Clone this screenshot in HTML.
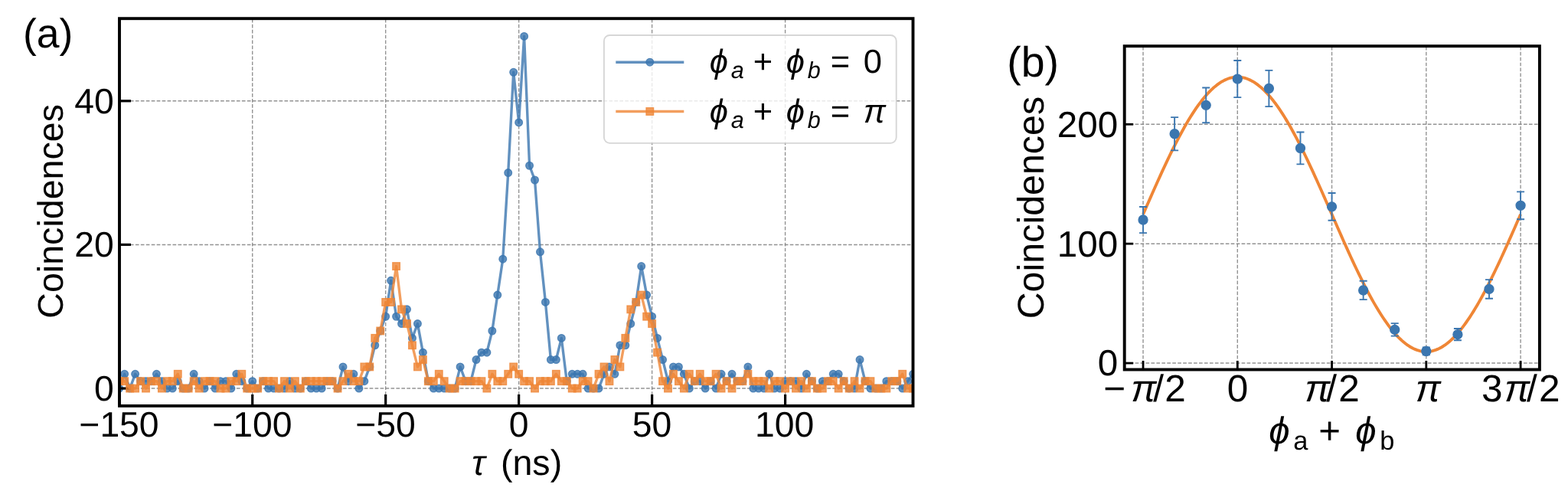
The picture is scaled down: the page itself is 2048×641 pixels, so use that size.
<!DOCTYPE html>
<html><head><meta charset="utf-8"><title>Coincidence plots</title>
<style>html,body{margin:0;padding:0;background:#fff;}svg{display:block;will-change:transform;}svg text{font-family:"Liberation Sans",sans-serif;fill:#000;white-space:pre;text-rendering:geometricPrecision;}</style></head>
<body>
<svg width="2048" height="641" viewBox="0 0 2048 641">
<rect x="0" y="0" width="2048" height="641" fill="#ffffff"/>
<defs>
<clipPath id="ca"><rect x="156.00" y="24.20" width="1036.50" height="505.70"/></clipPath>
<clipPath id="cb"><rect x="1468.70" y="60.20" width="542.20" height="422.30"/></clipPath>
</defs>
<g clip-path="url(#ca)">
<line x1="155.73" y1="529.90" x2="155.73" y2="24.20" stroke="#808080" stroke-opacity="0.85" stroke-width="1.4" stroke-dasharray="4.7 2.25" fill="none"/>
<line x1="329.70" y1="529.90" x2="329.70" y2="24.20" stroke="#808080" stroke-opacity="0.85" stroke-width="1.4" stroke-dasharray="4.7 2.25" fill="none"/>
<line x1="503.67" y1="529.90" x2="503.67" y2="24.20" stroke="#808080" stroke-opacity="0.85" stroke-width="1.4" stroke-dasharray="4.7 2.25" fill="none"/>
<line x1="677.65" y1="529.90" x2="677.65" y2="24.20" stroke="#808080" stroke-opacity="0.85" stroke-width="1.4" stroke-dasharray="4.7 2.25" fill="none"/>
<line x1="851.62" y1="529.90" x2="851.62" y2="24.20" stroke="#808080" stroke-opacity="0.85" stroke-width="1.4" stroke-dasharray="4.7 2.25" fill="none"/>
<line x1="1025.60" y1="529.90" x2="1025.60" y2="24.20" stroke="#808080" stroke-opacity="0.85" stroke-width="1.4" stroke-dasharray="4.7 2.25" fill="none"/>
<line x1="156.00" y1="507.05" x2="1192.50" y2="507.05" stroke="#808080" stroke-opacity="0.85" stroke-width="1.4" stroke-dasharray="4.7 2.25" fill="none"/>
<line x1="156.00" y1="319.43" x2="1192.50" y2="319.43" stroke="#808080" stroke-opacity="0.85" stroke-width="1.4" stroke-dasharray="4.7 2.25" fill="none"/>
<line x1="156.00" y1="131.81" x2="1192.50" y2="131.81" stroke="#808080" stroke-opacity="0.85" stroke-width="1.4" stroke-dasharray="4.7 2.25" fill="none"/>
</g>
<g clip-path="url(#ca)">
<polyline points="155.73,507.05 162.68,488.29 169.64,507.05 176.60,488.29 183.56,497.67 190.52,497.67 197.48,497.67 204.44,488.29 211.40,497.67 218.36,507.05 225.31,507.05 232.27,497.67 239.23,507.05 246.19,507.05 253.15,488.29 260.11,497.67 267.07,507.05 274.03,497.67 280.99,507.05 287.95,497.67 294.90,497.67 301.86,507.05 308.82,488.29 315.78,497.67 322.74,507.05 329.70,497.67 336.66,507.05 343.62,497.67 350.58,507.05 357.54,507.05 364.50,507.05 371.45,507.05 378.41,497.67 385.37,507.05 392.33,507.05 399.29,497.67 406.25,507.05 413.21,507.05 420.17,507.05 427.13,497.67 434.08,497.67 441.04,507.05 448.00,478.91 454.96,497.67 461.92,488.29 468.88,507.05 475.84,497.67 482.80,478.91 489.76,450.76 496.72,432.00 503.67,413.24 510.63,366.34 517.59,413.24 524.55,422.62 531.51,403.86 538.47,441.38 545.43,422.62 552.39,460.14 559.35,497.67 566.31,507.05 573.26,507.05 580.22,507.05 587.18,507.05 594.14,507.05 601.10,478.91 608.06,497.67 615.02,497.67 621.98,469.53 628.94,460.14 635.90,460.14 642.86,432.00 649.81,385.10 656.77,338.19 663.73,225.62 670.69,94.29 677.65,159.95 684.61,47.38 691.57,216.24 698.53,235.00 705.49,328.81 712.44,394.48 719.40,469.53 726.36,469.53 733.32,441.38 740.28,497.67 747.24,488.29 754.20,488.29 761.16,488.29 768.12,507.05 775.08,507.05 782.03,507.05 788.99,488.29 795.95,478.91 802.91,488.29 809.87,450.76 816.83,450.76 823.79,422.62 830.75,394.48 837.71,347.57 844.67,385.10 851.62,413.24 858.58,441.38 865.54,469.53 872.50,497.67 879.46,478.91 886.42,478.91 893.38,488.29 900.34,507.05 907.30,497.67 914.26,497.67 921.21,507.05 928.17,497.67 935.13,507.05 942.09,488.29 949.05,497.67 956.01,488.29 962.97,497.67 969.93,497.67 976.89,478.91 983.85,507.05 990.80,507.05 997.76,507.05 1004.72,488.29 1011.68,507.05 1018.64,507.05 1025.60,497.67 1032.56,497.67 1039.52,497.67 1046.48,507.05 1053.44,488.29 1060.39,497.67 1067.35,507.05 1074.31,497.67 1081.27,497.67 1088.23,488.29 1095.19,488.29 1102.15,497.67 1109.11,507.05 1116.07,507.05 1123.03,469.53 1129.98,497.67 1136.94,507.05 1143.90,507.05 1150.86,507.05 1157.82,497.67 1164.78,497.67 1171.74,497.67 1178.70,507.05 1185.66,497.67 1192.62,488.29" fill="none" stroke="#3B76AF" stroke-opacity="0.8" stroke-width="3.4" stroke-linejoin="round"/>
<circle cx="155.73" cy="507.05" r="4.85" fill="#3B76AF" fill-opacity="0.8" stroke="#3B76AF" stroke-opacity="0.8" stroke-width="1.3"/>
<circle cx="162.68" cy="488.29" r="4.85" fill="#3B76AF" fill-opacity="0.8" stroke="#3B76AF" stroke-opacity="0.8" stroke-width="1.3"/>
<circle cx="169.64" cy="507.05" r="4.85" fill="#3B76AF" fill-opacity="0.8" stroke="#3B76AF" stroke-opacity="0.8" stroke-width="1.3"/>
<circle cx="176.60" cy="488.29" r="4.85" fill="#3B76AF" fill-opacity="0.8" stroke="#3B76AF" stroke-opacity="0.8" stroke-width="1.3"/>
<circle cx="183.56" cy="497.67" r="4.85" fill="#3B76AF" fill-opacity="0.8" stroke="#3B76AF" stroke-opacity="0.8" stroke-width="1.3"/>
<circle cx="190.52" cy="497.67" r="4.85" fill="#3B76AF" fill-opacity="0.8" stroke="#3B76AF" stroke-opacity="0.8" stroke-width="1.3"/>
<circle cx="197.48" cy="497.67" r="4.85" fill="#3B76AF" fill-opacity="0.8" stroke="#3B76AF" stroke-opacity="0.8" stroke-width="1.3"/>
<circle cx="204.44" cy="488.29" r="4.85" fill="#3B76AF" fill-opacity="0.8" stroke="#3B76AF" stroke-opacity="0.8" stroke-width="1.3"/>
<circle cx="211.40" cy="497.67" r="4.85" fill="#3B76AF" fill-opacity="0.8" stroke="#3B76AF" stroke-opacity="0.8" stroke-width="1.3"/>
<circle cx="218.36" cy="507.05" r="4.85" fill="#3B76AF" fill-opacity="0.8" stroke="#3B76AF" stroke-opacity="0.8" stroke-width="1.3"/>
<circle cx="225.31" cy="507.05" r="4.85" fill="#3B76AF" fill-opacity="0.8" stroke="#3B76AF" stroke-opacity="0.8" stroke-width="1.3"/>
<circle cx="232.27" cy="497.67" r="4.85" fill="#3B76AF" fill-opacity="0.8" stroke="#3B76AF" stroke-opacity="0.8" stroke-width="1.3"/>
<circle cx="239.23" cy="507.05" r="4.85" fill="#3B76AF" fill-opacity="0.8" stroke="#3B76AF" stroke-opacity="0.8" stroke-width="1.3"/>
<circle cx="246.19" cy="507.05" r="4.85" fill="#3B76AF" fill-opacity="0.8" stroke="#3B76AF" stroke-opacity="0.8" stroke-width="1.3"/>
<circle cx="253.15" cy="488.29" r="4.85" fill="#3B76AF" fill-opacity="0.8" stroke="#3B76AF" stroke-opacity="0.8" stroke-width="1.3"/>
<circle cx="260.11" cy="497.67" r="4.85" fill="#3B76AF" fill-opacity="0.8" stroke="#3B76AF" stroke-opacity="0.8" stroke-width="1.3"/>
<circle cx="267.07" cy="507.05" r="4.85" fill="#3B76AF" fill-opacity="0.8" stroke="#3B76AF" stroke-opacity="0.8" stroke-width="1.3"/>
<circle cx="274.03" cy="497.67" r="4.85" fill="#3B76AF" fill-opacity="0.8" stroke="#3B76AF" stroke-opacity="0.8" stroke-width="1.3"/>
<circle cx="280.99" cy="507.05" r="4.85" fill="#3B76AF" fill-opacity="0.8" stroke="#3B76AF" stroke-opacity="0.8" stroke-width="1.3"/>
<circle cx="287.95" cy="497.67" r="4.85" fill="#3B76AF" fill-opacity="0.8" stroke="#3B76AF" stroke-opacity="0.8" stroke-width="1.3"/>
<circle cx="294.90" cy="497.67" r="4.85" fill="#3B76AF" fill-opacity="0.8" stroke="#3B76AF" stroke-opacity="0.8" stroke-width="1.3"/>
<circle cx="301.86" cy="507.05" r="4.85" fill="#3B76AF" fill-opacity="0.8" stroke="#3B76AF" stroke-opacity="0.8" stroke-width="1.3"/>
<circle cx="308.82" cy="488.29" r="4.85" fill="#3B76AF" fill-opacity="0.8" stroke="#3B76AF" stroke-opacity="0.8" stroke-width="1.3"/>
<circle cx="315.78" cy="497.67" r="4.85" fill="#3B76AF" fill-opacity="0.8" stroke="#3B76AF" stroke-opacity="0.8" stroke-width="1.3"/>
<circle cx="322.74" cy="507.05" r="4.85" fill="#3B76AF" fill-opacity="0.8" stroke="#3B76AF" stroke-opacity="0.8" stroke-width="1.3"/>
<circle cx="329.70" cy="497.67" r="4.85" fill="#3B76AF" fill-opacity="0.8" stroke="#3B76AF" stroke-opacity="0.8" stroke-width="1.3"/>
<circle cx="336.66" cy="507.05" r="4.85" fill="#3B76AF" fill-opacity="0.8" stroke="#3B76AF" stroke-opacity="0.8" stroke-width="1.3"/>
<circle cx="343.62" cy="497.67" r="4.85" fill="#3B76AF" fill-opacity="0.8" stroke="#3B76AF" stroke-opacity="0.8" stroke-width="1.3"/>
<circle cx="350.58" cy="507.05" r="4.85" fill="#3B76AF" fill-opacity="0.8" stroke="#3B76AF" stroke-opacity="0.8" stroke-width="1.3"/>
<circle cx="357.54" cy="507.05" r="4.85" fill="#3B76AF" fill-opacity="0.8" stroke="#3B76AF" stroke-opacity="0.8" stroke-width="1.3"/>
<circle cx="364.50" cy="507.05" r="4.85" fill="#3B76AF" fill-opacity="0.8" stroke="#3B76AF" stroke-opacity="0.8" stroke-width="1.3"/>
<circle cx="371.45" cy="507.05" r="4.85" fill="#3B76AF" fill-opacity="0.8" stroke="#3B76AF" stroke-opacity="0.8" stroke-width="1.3"/>
<circle cx="378.41" cy="497.67" r="4.85" fill="#3B76AF" fill-opacity="0.8" stroke="#3B76AF" stroke-opacity="0.8" stroke-width="1.3"/>
<circle cx="385.37" cy="507.05" r="4.85" fill="#3B76AF" fill-opacity="0.8" stroke="#3B76AF" stroke-opacity="0.8" stroke-width="1.3"/>
<circle cx="392.33" cy="507.05" r="4.85" fill="#3B76AF" fill-opacity="0.8" stroke="#3B76AF" stroke-opacity="0.8" stroke-width="1.3"/>
<circle cx="399.29" cy="497.67" r="4.85" fill="#3B76AF" fill-opacity="0.8" stroke="#3B76AF" stroke-opacity="0.8" stroke-width="1.3"/>
<circle cx="406.25" cy="507.05" r="4.85" fill="#3B76AF" fill-opacity="0.8" stroke="#3B76AF" stroke-opacity="0.8" stroke-width="1.3"/>
<circle cx="413.21" cy="507.05" r="4.85" fill="#3B76AF" fill-opacity="0.8" stroke="#3B76AF" stroke-opacity="0.8" stroke-width="1.3"/>
<circle cx="420.17" cy="507.05" r="4.85" fill="#3B76AF" fill-opacity="0.8" stroke="#3B76AF" stroke-opacity="0.8" stroke-width="1.3"/>
<circle cx="427.13" cy="497.67" r="4.85" fill="#3B76AF" fill-opacity="0.8" stroke="#3B76AF" stroke-opacity="0.8" stroke-width="1.3"/>
<circle cx="434.08" cy="497.67" r="4.85" fill="#3B76AF" fill-opacity="0.8" stroke="#3B76AF" stroke-opacity="0.8" stroke-width="1.3"/>
<circle cx="441.04" cy="507.05" r="4.85" fill="#3B76AF" fill-opacity="0.8" stroke="#3B76AF" stroke-opacity="0.8" stroke-width="1.3"/>
<circle cx="448.00" cy="478.91" r="4.85" fill="#3B76AF" fill-opacity="0.8" stroke="#3B76AF" stroke-opacity="0.8" stroke-width="1.3"/>
<circle cx="454.96" cy="497.67" r="4.85" fill="#3B76AF" fill-opacity="0.8" stroke="#3B76AF" stroke-opacity="0.8" stroke-width="1.3"/>
<circle cx="461.92" cy="488.29" r="4.85" fill="#3B76AF" fill-opacity="0.8" stroke="#3B76AF" stroke-opacity="0.8" stroke-width="1.3"/>
<circle cx="468.88" cy="507.05" r="4.85" fill="#3B76AF" fill-opacity="0.8" stroke="#3B76AF" stroke-opacity="0.8" stroke-width="1.3"/>
<circle cx="475.84" cy="497.67" r="4.85" fill="#3B76AF" fill-opacity="0.8" stroke="#3B76AF" stroke-opacity="0.8" stroke-width="1.3"/>
<circle cx="482.80" cy="478.91" r="4.85" fill="#3B76AF" fill-opacity="0.8" stroke="#3B76AF" stroke-opacity="0.8" stroke-width="1.3"/>
<circle cx="489.76" cy="450.76" r="4.85" fill="#3B76AF" fill-opacity="0.8" stroke="#3B76AF" stroke-opacity="0.8" stroke-width="1.3"/>
<circle cx="496.72" cy="432.00" r="4.85" fill="#3B76AF" fill-opacity="0.8" stroke="#3B76AF" stroke-opacity="0.8" stroke-width="1.3"/>
<circle cx="503.67" cy="413.24" r="4.85" fill="#3B76AF" fill-opacity="0.8" stroke="#3B76AF" stroke-opacity="0.8" stroke-width="1.3"/>
<circle cx="510.63" cy="366.34" r="4.85" fill="#3B76AF" fill-opacity="0.8" stroke="#3B76AF" stroke-opacity="0.8" stroke-width="1.3"/>
<circle cx="517.59" cy="413.24" r="4.85" fill="#3B76AF" fill-opacity="0.8" stroke="#3B76AF" stroke-opacity="0.8" stroke-width="1.3"/>
<circle cx="524.55" cy="422.62" r="4.85" fill="#3B76AF" fill-opacity="0.8" stroke="#3B76AF" stroke-opacity="0.8" stroke-width="1.3"/>
<circle cx="531.51" cy="403.86" r="4.85" fill="#3B76AF" fill-opacity="0.8" stroke="#3B76AF" stroke-opacity="0.8" stroke-width="1.3"/>
<circle cx="538.47" cy="441.38" r="4.85" fill="#3B76AF" fill-opacity="0.8" stroke="#3B76AF" stroke-opacity="0.8" stroke-width="1.3"/>
<circle cx="545.43" cy="422.62" r="4.85" fill="#3B76AF" fill-opacity="0.8" stroke="#3B76AF" stroke-opacity="0.8" stroke-width="1.3"/>
<circle cx="552.39" cy="460.14" r="4.85" fill="#3B76AF" fill-opacity="0.8" stroke="#3B76AF" stroke-opacity="0.8" stroke-width="1.3"/>
<circle cx="559.35" cy="497.67" r="4.85" fill="#3B76AF" fill-opacity="0.8" stroke="#3B76AF" stroke-opacity="0.8" stroke-width="1.3"/>
<circle cx="566.31" cy="507.05" r="4.85" fill="#3B76AF" fill-opacity="0.8" stroke="#3B76AF" stroke-opacity="0.8" stroke-width="1.3"/>
<circle cx="573.26" cy="507.05" r="4.85" fill="#3B76AF" fill-opacity="0.8" stroke="#3B76AF" stroke-opacity="0.8" stroke-width="1.3"/>
<circle cx="580.22" cy="507.05" r="4.85" fill="#3B76AF" fill-opacity="0.8" stroke="#3B76AF" stroke-opacity="0.8" stroke-width="1.3"/>
<circle cx="587.18" cy="507.05" r="4.85" fill="#3B76AF" fill-opacity="0.8" stroke="#3B76AF" stroke-opacity="0.8" stroke-width="1.3"/>
<circle cx="594.14" cy="507.05" r="4.85" fill="#3B76AF" fill-opacity="0.8" stroke="#3B76AF" stroke-opacity="0.8" stroke-width="1.3"/>
<circle cx="601.10" cy="478.91" r="4.85" fill="#3B76AF" fill-opacity="0.8" stroke="#3B76AF" stroke-opacity="0.8" stroke-width="1.3"/>
<circle cx="608.06" cy="497.67" r="4.85" fill="#3B76AF" fill-opacity="0.8" stroke="#3B76AF" stroke-opacity="0.8" stroke-width="1.3"/>
<circle cx="615.02" cy="497.67" r="4.85" fill="#3B76AF" fill-opacity="0.8" stroke="#3B76AF" stroke-opacity="0.8" stroke-width="1.3"/>
<circle cx="621.98" cy="469.53" r="4.85" fill="#3B76AF" fill-opacity="0.8" stroke="#3B76AF" stroke-opacity="0.8" stroke-width="1.3"/>
<circle cx="628.94" cy="460.14" r="4.85" fill="#3B76AF" fill-opacity="0.8" stroke="#3B76AF" stroke-opacity="0.8" stroke-width="1.3"/>
<circle cx="635.90" cy="460.14" r="4.85" fill="#3B76AF" fill-opacity="0.8" stroke="#3B76AF" stroke-opacity="0.8" stroke-width="1.3"/>
<circle cx="642.86" cy="432.00" r="4.85" fill="#3B76AF" fill-opacity="0.8" stroke="#3B76AF" stroke-opacity="0.8" stroke-width="1.3"/>
<circle cx="649.81" cy="385.10" r="4.85" fill="#3B76AF" fill-opacity="0.8" stroke="#3B76AF" stroke-opacity="0.8" stroke-width="1.3"/>
<circle cx="656.77" cy="338.19" r="4.85" fill="#3B76AF" fill-opacity="0.8" stroke="#3B76AF" stroke-opacity="0.8" stroke-width="1.3"/>
<circle cx="663.73" cy="225.62" r="4.85" fill="#3B76AF" fill-opacity="0.8" stroke="#3B76AF" stroke-opacity="0.8" stroke-width="1.3"/>
<circle cx="670.69" cy="94.29" r="4.85" fill="#3B76AF" fill-opacity="0.8" stroke="#3B76AF" stroke-opacity="0.8" stroke-width="1.3"/>
<circle cx="677.65" cy="159.95" r="4.85" fill="#3B76AF" fill-opacity="0.8" stroke="#3B76AF" stroke-opacity="0.8" stroke-width="1.3"/>
<circle cx="684.61" cy="47.38" r="4.85" fill="#3B76AF" fill-opacity="0.8" stroke="#3B76AF" stroke-opacity="0.8" stroke-width="1.3"/>
<circle cx="691.57" cy="216.24" r="4.85" fill="#3B76AF" fill-opacity="0.8" stroke="#3B76AF" stroke-opacity="0.8" stroke-width="1.3"/>
<circle cx="698.53" cy="235.00" r="4.85" fill="#3B76AF" fill-opacity="0.8" stroke="#3B76AF" stroke-opacity="0.8" stroke-width="1.3"/>
<circle cx="705.49" cy="328.81" r="4.85" fill="#3B76AF" fill-opacity="0.8" stroke="#3B76AF" stroke-opacity="0.8" stroke-width="1.3"/>
<circle cx="712.44" cy="394.48" r="4.85" fill="#3B76AF" fill-opacity="0.8" stroke="#3B76AF" stroke-opacity="0.8" stroke-width="1.3"/>
<circle cx="719.40" cy="469.53" r="4.85" fill="#3B76AF" fill-opacity="0.8" stroke="#3B76AF" stroke-opacity="0.8" stroke-width="1.3"/>
<circle cx="726.36" cy="469.53" r="4.85" fill="#3B76AF" fill-opacity="0.8" stroke="#3B76AF" stroke-opacity="0.8" stroke-width="1.3"/>
<circle cx="733.32" cy="441.38" r="4.85" fill="#3B76AF" fill-opacity="0.8" stroke="#3B76AF" stroke-opacity="0.8" stroke-width="1.3"/>
<circle cx="740.28" cy="497.67" r="4.85" fill="#3B76AF" fill-opacity="0.8" stroke="#3B76AF" stroke-opacity="0.8" stroke-width="1.3"/>
<circle cx="747.24" cy="488.29" r="4.85" fill="#3B76AF" fill-opacity="0.8" stroke="#3B76AF" stroke-opacity="0.8" stroke-width="1.3"/>
<circle cx="754.20" cy="488.29" r="4.85" fill="#3B76AF" fill-opacity="0.8" stroke="#3B76AF" stroke-opacity="0.8" stroke-width="1.3"/>
<circle cx="761.16" cy="488.29" r="4.85" fill="#3B76AF" fill-opacity="0.8" stroke="#3B76AF" stroke-opacity="0.8" stroke-width="1.3"/>
<circle cx="768.12" cy="507.05" r="4.85" fill="#3B76AF" fill-opacity="0.8" stroke="#3B76AF" stroke-opacity="0.8" stroke-width="1.3"/>
<circle cx="775.08" cy="507.05" r="4.85" fill="#3B76AF" fill-opacity="0.8" stroke="#3B76AF" stroke-opacity="0.8" stroke-width="1.3"/>
<circle cx="782.03" cy="507.05" r="4.85" fill="#3B76AF" fill-opacity="0.8" stroke="#3B76AF" stroke-opacity="0.8" stroke-width="1.3"/>
<circle cx="788.99" cy="488.29" r="4.85" fill="#3B76AF" fill-opacity="0.8" stroke="#3B76AF" stroke-opacity="0.8" stroke-width="1.3"/>
<circle cx="795.95" cy="478.91" r="4.85" fill="#3B76AF" fill-opacity="0.8" stroke="#3B76AF" stroke-opacity="0.8" stroke-width="1.3"/>
<circle cx="802.91" cy="488.29" r="4.85" fill="#3B76AF" fill-opacity="0.8" stroke="#3B76AF" stroke-opacity="0.8" stroke-width="1.3"/>
<circle cx="809.87" cy="450.76" r="4.85" fill="#3B76AF" fill-opacity="0.8" stroke="#3B76AF" stroke-opacity="0.8" stroke-width="1.3"/>
<circle cx="816.83" cy="450.76" r="4.85" fill="#3B76AF" fill-opacity="0.8" stroke="#3B76AF" stroke-opacity="0.8" stroke-width="1.3"/>
<circle cx="823.79" cy="422.62" r="4.85" fill="#3B76AF" fill-opacity="0.8" stroke="#3B76AF" stroke-opacity="0.8" stroke-width="1.3"/>
<circle cx="830.75" cy="394.48" r="4.85" fill="#3B76AF" fill-opacity="0.8" stroke="#3B76AF" stroke-opacity="0.8" stroke-width="1.3"/>
<circle cx="837.71" cy="347.57" r="4.85" fill="#3B76AF" fill-opacity="0.8" stroke="#3B76AF" stroke-opacity="0.8" stroke-width="1.3"/>
<circle cx="844.67" cy="385.10" r="4.85" fill="#3B76AF" fill-opacity="0.8" stroke="#3B76AF" stroke-opacity="0.8" stroke-width="1.3"/>
<circle cx="851.62" cy="413.24" r="4.85" fill="#3B76AF" fill-opacity="0.8" stroke="#3B76AF" stroke-opacity="0.8" stroke-width="1.3"/>
<circle cx="858.58" cy="441.38" r="4.85" fill="#3B76AF" fill-opacity="0.8" stroke="#3B76AF" stroke-opacity="0.8" stroke-width="1.3"/>
<circle cx="865.54" cy="469.53" r="4.85" fill="#3B76AF" fill-opacity="0.8" stroke="#3B76AF" stroke-opacity="0.8" stroke-width="1.3"/>
<circle cx="872.50" cy="497.67" r="4.85" fill="#3B76AF" fill-opacity="0.8" stroke="#3B76AF" stroke-opacity="0.8" stroke-width="1.3"/>
<circle cx="879.46" cy="478.91" r="4.85" fill="#3B76AF" fill-opacity="0.8" stroke="#3B76AF" stroke-opacity="0.8" stroke-width="1.3"/>
<circle cx="886.42" cy="478.91" r="4.85" fill="#3B76AF" fill-opacity="0.8" stroke="#3B76AF" stroke-opacity="0.8" stroke-width="1.3"/>
<circle cx="893.38" cy="488.29" r="4.85" fill="#3B76AF" fill-opacity="0.8" stroke="#3B76AF" stroke-opacity="0.8" stroke-width="1.3"/>
<circle cx="900.34" cy="507.05" r="4.85" fill="#3B76AF" fill-opacity="0.8" stroke="#3B76AF" stroke-opacity="0.8" stroke-width="1.3"/>
<circle cx="907.30" cy="497.67" r="4.85" fill="#3B76AF" fill-opacity="0.8" stroke="#3B76AF" stroke-opacity="0.8" stroke-width="1.3"/>
<circle cx="914.26" cy="497.67" r="4.85" fill="#3B76AF" fill-opacity="0.8" stroke="#3B76AF" stroke-opacity="0.8" stroke-width="1.3"/>
<circle cx="921.21" cy="507.05" r="4.85" fill="#3B76AF" fill-opacity="0.8" stroke="#3B76AF" stroke-opacity="0.8" stroke-width="1.3"/>
<circle cx="928.17" cy="497.67" r="4.85" fill="#3B76AF" fill-opacity="0.8" stroke="#3B76AF" stroke-opacity="0.8" stroke-width="1.3"/>
<circle cx="935.13" cy="507.05" r="4.85" fill="#3B76AF" fill-opacity="0.8" stroke="#3B76AF" stroke-opacity="0.8" stroke-width="1.3"/>
<circle cx="942.09" cy="488.29" r="4.85" fill="#3B76AF" fill-opacity="0.8" stroke="#3B76AF" stroke-opacity="0.8" stroke-width="1.3"/>
<circle cx="949.05" cy="497.67" r="4.85" fill="#3B76AF" fill-opacity="0.8" stroke="#3B76AF" stroke-opacity="0.8" stroke-width="1.3"/>
<circle cx="956.01" cy="488.29" r="4.85" fill="#3B76AF" fill-opacity="0.8" stroke="#3B76AF" stroke-opacity="0.8" stroke-width="1.3"/>
<circle cx="962.97" cy="497.67" r="4.85" fill="#3B76AF" fill-opacity="0.8" stroke="#3B76AF" stroke-opacity="0.8" stroke-width="1.3"/>
<circle cx="969.93" cy="497.67" r="4.85" fill="#3B76AF" fill-opacity="0.8" stroke="#3B76AF" stroke-opacity="0.8" stroke-width="1.3"/>
<circle cx="976.89" cy="478.91" r="4.85" fill="#3B76AF" fill-opacity="0.8" stroke="#3B76AF" stroke-opacity="0.8" stroke-width="1.3"/>
<circle cx="983.85" cy="507.05" r="4.85" fill="#3B76AF" fill-opacity="0.8" stroke="#3B76AF" stroke-opacity="0.8" stroke-width="1.3"/>
<circle cx="990.80" cy="507.05" r="4.85" fill="#3B76AF" fill-opacity="0.8" stroke="#3B76AF" stroke-opacity="0.8" stroke-width="1.3"/>
<circle cx="997.76" cy="507.05" r="4.85" fill="#3B76AF" fill-opacity="0.8" stroke="#3B76AF" stroke-opacity="0.8" stroke-width="1.3"/>
<circle cx="1004.72" cy="488.29" r="4.85" fill="#3B76AF" fill-opacity="0.8" stroke="#3B76AF" stroke-opacity="0.8" stroke-width="1.3"/>
<circle cx="1011.68" cy="507.05" r="4.85" fill="#3B76AF" fill-opacity="0.8" stroke="#3B76AF" stroke-opacity="0.8" stroke-width="1.3"/>
<circle cx="1018.64" cy="507.05" r="4.85" fill="#3B76AF" fill-opacity="0.8" stroke="#3B76AF" stroke-opacity="0.8" stroke-width="1.3"/>
<circle cx="1025.60" cy="497.67" r="4.85" fill="#3B76AF" fill-opacity="0.8" stroke="#3B76AF" stroke-opacity="0.8" stroke-width="1.3"/>
<circle cx="1032.56" cy="497.67" r="4.85" fill="#3B76AF" fill-opacity="0.8" stroke="#3B76AF" stroke-opacity="0.8" stroke-width="1.3"/>
<circle cx="1039.52" cy="497.67" r="4.85" fill="#3B76AF" fill-opacity="0.8" stroke="#3B76AF" stroke-opacity="0.8" stroke-width="1.3"/>
<circle cx="1046.48" cy="507.05" r="4.85" fill="#3B76AF" fill-opacity="0.8" stroke="#3B76AF" stroke-opacity="0.8" stroke-width="1.3"/>
<circle cx="1053.44" cy="488.29" r="4.85" fill="#3B76AF" fill-opacity="0.8" stroke="#3B76AF" stroke-opacity="0.8" stroke-width="1.3"/>
<circle cx="1060.39" cy="497.67" r="4.85" fill="#3B76AF" fill-opacity="0.8" stroke="#3B76AF" stroke-opacity="0.8" stroke-width="1.3"/>
<circle cx="1067.35" cy="507.05" r="4.85" fill="#3B76AF" fill-opacity="0.8" stroke="#3B76AF" stroke-opacity="0.8" stroke-width="1.3"/>
<circle cx="1074.31" cy="497.67" r="4.85" fill="#3B76AF" fill-opacity="0.8" stroke="#3B76AF" stroke-opacity="0.8" stroke-width="1.3"/>
<circle cx="1081.27" cy="497.67" r="4.85" fill="#3B76AF" fill-opacity="0.8" stroke="#3B76AF" stroke-opacity="0.8" stroke-width="1.3"/>
<circle cx="1088.23" cy="488.29" r="4.85" fill="#3B76AF" fill-opacity="0.8" stroke="#3B76AF" stroke-opacity="0.8" stroke-width="1.3"/>
<circle cx="1095.19" cy="488.29" r="4.85" fill="#3B76AF" fill-opacity="0.8" stroke="#3B76AF" stroke-opacity="0.8" stroke-width="1.3"/>
<circle cx="1102.15" cy="497.67" r="4.85" fill="#3B76AF" fill-opacity="0.8" stroke="#3B76AF" stroke-opacity="0.8" stroke-width="1.3"/>
<circle cx="1109.11" cy="507.05" r="4.85" fill="#3B76AF" fill-opacity="0.8" stroke="#3B76AF" stroke-opacity="0.8" stroke-width="1.3"/>
<circle cx="1116.07" cy="507.05" r="4.85" fill="#3B76AF" fill-opacity="0.8" stroke="#3B76AF" stroke-opacity="0.8" stroke-width="1.3"/>
<circle cx="1123.03" cy="469.53" r="4.85" fill="#3B76AF" fill-opacity="0.8" stroke="#3B76AF" stroke-opacity="0.8" stroke-width="1.3"/>
<circle cx="1129.98" cy="497.67" r="4.85" fill="#3B76AF" fill-opacity="0.8" stroke="#3B76AF" stroke-opacity="0.8" stroke-width="1.3"/>
<circle cx="1136.94" cy="507.05" r="4.85" fill="#3B76AF" fill-opacity="0.8" stroke="#3B76AF" stroke-opacity="0.8" stroke-width="1.3"/>
<circle cx="1143.90" cy="507.05" r="4.85" fill="#3B76AF" fill-opacity="0.8" stroke="#3B76AF" stroke-opacity="0.8" stroke-width="1.3"/>
<circle cx="1150.86" cy="507.05" r="4.85" fill="#3B76AF" fill-opacity="0.8" stroke="#3B76AF" stroke-opacity="0.8" stroke-width="1.3"/>
<circle cx="1157.82" cy="497.67" r="4.85" fill="#3B76AF" fill-opacity="0.8" stroke="#3B76AF" stroke-opacity="0.8" stroke-width="1.3"/>
<circle cx="1164.78" cy="497.67" r="4.85" fill="#3B76AF" fill-opacity="0.8" stroke="#3B76AF" stroke-opacity="0.8" stroke-width="1.3"/>
<circle cx="1171.74" cy="497.67" r="4.85" fill="#3B76AF" fill-opacity="0.8" stroke="#3B76AF" stroke-opacity="0.8" stroke-width="1.3"/>
<circle cx="1178.70" cy="507.05" r="4.85" fill="#3B76AF" fill-opacity="0.8" stroke="#3B76AF" stroke-opacity="0.8" stroke-width="1.3"/>
<circle cx="1185.66" cy="497.67" r="4.85" fill="#3B76AF" fill-opacity="0.8" stroke="#3B76AF" stroke-opacity="0.8" stroke-width="1.3"/>
<circle cx="1192.62" cy="488.29" r="4.85" fill="#3B76AF" fill-opacity="0.8" stroke="#3B76AF" stroke-opacity="0.8" stroke-width="1.3"/>
</g>
<line x1="155.73" y1="529.90" x2="155.73" y2="514.90" stroke="#000" stroke-width="3.2"/>
<line x1="329.70" y1="529.90" x2="329.70" y2="514.90" stroke="#000" stroke-width="3.2"/>
<line x1="503.67" y1="529.90" x2="503.67" y2="514.90" stroke="#000" stroke-width="3.2"/>
<line x1="677.65" y1="529.90" x2="677.65" y2="514.90" stroke="#000" stroke-width="3.2"/>
<line x1="851.62" y1="529.90" x2="851.62" y2="514.90" stroke="#000" stroke-width="3.2"/>
<line x1="1025.60" y1="529.90" x2="1025.60" y2="514.90" stroke="#000" stroke-width="3.2"/>
<line x1="156.00" y1="507.05" x2="171.00" y2="507.05" stroke="#000" stroke-width="3.2"/>
<line x1="156.00" y1="319.43" x2="171.00" y2="319.43" stroke="#000" stroke-width="3.2"/>
<line x1="156.00" y1="131.81" x2="171.00" y2="131.81" stroke="#000" stroke-width="3.2"/>
<g clip-path="url(#ca)">
<polyline points="155.73,497.67 162.68,497.67 169.64,507.05 176.60,507.05 183.56,497.67 190.52,507.05 197.48,497.67 204.44,497.67 211.40,507.05 218.36,497.67 225.31,497.67 232.27,488.29 239.23,507.05 246.19,507.05 253.15,497.67 260.11,507.05 267.07,497.67 274.03,497.67 280.99,497.67 287.95,507.05 294.90,507.05 301.86,497.67 308.82,497.67 315.78,488.29 322.74,507.05 329.70,507.05 336.66,507.05 343.62,497.67 350.58,497.67 357.54,497.67 364.50,507.05 371.45,497.67 378.41,507.05 385.37,497.67 392.33,507.05 399.29,497.67 406.25,497.67 413.21,497.67 420.17,497.67 427.13,497.67 434.08,497.67 441.04,507.05 448.00,497.67 454.96,488.29 461.92,497.67 468.88,497.67 475.84,478.91 482.80,478.91 489.76,441.38 496.72,432.00 503.67,394.48 510.63,394.48 517.59,347.57 524.55,403.86 531.51,422.62 538.47,450.76 545.43,478.91 552.39,469.53 559.35,497.67 566.31,497.67 573.26,488.29 580.22,497.67 587.18,507.05 594.14,507.05 601.10,497.67 608.06,497.67 615.02,497.67 621.98,497.67 628.94,497.67 635.90,507.05 642.86,488.29 649.81,497.67 656.77,497.67 663.73,488.29 670.69,478.91 677.65,488.29 684.61,497.67 691.57,497.67 698.53,507.05 705.49,497.67 712.44,497.67 719.40,497.67 726.36,488.29 733.32,497.67 740.28,497.67 747.24,507.05 754.20,507.05 761.16,497.67 768.12,497.67 775.08,507.05 782.03,488.29 788.99,478.91 795.95,497.67 802.91,469.53 809.87,478.91 816.83,441.38 823.79,403.86 830.75,394.48 837.71,385.10 844.67,413.24 851.62,422.62 858.58,460.14 865.54,497.67 872.50,507.05 879.46,488.29 886.42,497.67 893.38,507.05 900.34,488.29 907.30,497.67 914.26,488.29 921.21,497.67 928.17,497.67 935.13,488.29 942.09,507.05 949.05,497.67 956.01,507.05 962.97,497.67 969.93,497.67 976.89,488.29 983.85,497.67 990.80,497.67 997.76,497.67 1004.72,507.05 1011.68,497.67 1018.64,497.67 1025.60,507.05 1032.56,497.67 1039.52,507.05 1046.48,497.67 1053.44,507.05 1060.39,497.67 1067.35,507.05 1074.31,507.05 1081.27,497.67 1088.23,497.67 1095.19,507.05 1102.15,497.67 1109.11,507.05 1116.07,497.67 1123.03,507.05 1129.98,497.67 1136.94,497.67 1143.90,507.05 1150.86,507.05 1157.82,507.05 1164.78,497.67 1171.74,497.67 1178.70,488.29 1185.66,507.05 1192.62,507.05" fill="none" stroke="#EF8636" stroke-opacity="0.8" stroke-width="3.4" stroke-linejoin="round"/>
<rect x="150.93" y="492.87" width="9.6" height="9.6" fill="#EF8636" fill-opacity="0.8" stroke="#EF8636" stroke-opacity="0.8" stroke-width="1.3"/>
<rect x="157.88" y="492.87" width="9.6" height="9.6" fill="#EF8636" fill-opacity="0.8" stroke="#EF8636" stroke-opacity="0.8" stroke-width="1.3"/>
<rect x="164.84" y="502.25" width="9.6" height="9.6" fill="#EF8636" fill-opacity="0.8" stroke="#EF8636" stroke-opacity="0.8" stroke-width="1.3"/>
<rect x="171.80" y="502.25" width="9.6" height="9.6" fill="#EF8636" fill-opacity="0.8" stroke="#EF8636" stroke-opacity="0.8" stroke-width="1.3"/>
<rect x="178.76" y="492.87" width="9.6" height="9.6" fill="#EF8636" fill-opacity="0.8" stroke="#EF8636" stroke-opacity="0.8" stroke-width="1.3"/>
<rect x="185.72" y="502.25" width="9.6" height="9.6" fill="#EF8636" fill-opacity="0.8" stroke="#EF8636" stroke-opacity="0.8" stroke-width="1.3"/>
<rect x="192.68" y="492.87" width="9.6" height="9.6" fill="#EF8636" fill-opacity="0.8" stroke="#EF8636" stroke-opacity="0.8" stroke-width="1.3"/>
<rect x="199.64" y="492.87" width="9.6" height="9.6" fill="#EF8636" fill-opacity="0.8" stroke="#EF8636" stroke-opacity="0.8" stroke-width="1.3"/>
<rect x="206.60" y="502.25" width="9.6" height="9.6" fill="#EF8636" fill-opacity="0.8" stroke="#EF8636" stroke-opacity="0.8" stroke-width="1.3"/>
<rect x="213.56" y="492.87" width="9.6" height="9.6" fill="#EF8636" fill-opacity="0.8" stroke="#EF8636" stroke-opacity="0.8" stroke-width="1.3"/>
<rect x="220.51" y="492.87" width="9.6" height="9.6" fill="#EF8636" fill-opacity="0.8" stroke="#EF8636" stroke-opacity="0.8" stroke-width="1.3"/>
<rect x="227.47" y="483.49" width="9.6" height="9.6" fill="#EF8636" fill-opacity="0.8" stroke="#EF8636" stroke-opacity="0.8" stroke-width="1.3"/>
<rect x="234.43" y="502.25" width="9.6" height="9.6" fill="#EF8636" fill-opacity="0.8" stroke="#EF8636" stroke-opacity="0.8" stroke-width="1.3"/>
<rect x="241.39" y="502.25" width="9.6" height="9.6" fill="#EF8636" fill-opacity="0.8" stroke="#EF8636" stroke-opacity="0.8" stroke-width="1.3"/>
<rect x="248.35" y="492.87" width="9.6" height="9.6" fill="#EF8636" fill-opacity="0.8" stroke="#EF8636" stroke-opacity="0.8" stroke-width="1.3"/>
<rect x="255.31" y="502.25" width="9.6" height="9.6" fill="#EF8636" fill-opacity="0.8" stroke="#EF8636" stroke-opacity="0.8" stroke-width="1.3"/>
<rect x="262.27" y="492.87" width="9.6" height="9.6" fill="#EF8636" fill-opacity="0.8" stroke="#EF8636" stroke-opacity="0.8" stroke-width="1.3"/>
<rect x="269.23" y="492.87" width="9.6" height="9.6" fill="#EF8636" fill-opacity="0.8" stroke="#EF8636" stroke-opacity="0.8" stroke-width="1.3"/>
<rect x="276.19" y="492.87" width="9.6" height="9.6" fill="#EF8636" fill-opacity="0.8" stroke="#EF8636" stroke-opacity="0.8" stroke-width="1.3"/>
<rect x="283.15" y="502.25" width="9.6" height="9.6" fill="#EF8636" fill-opacity="0.8" stroke="#EF8636" stroke-opacity="0.8" stroke-width="1.3"/>
<rect x="290.10" y="502.25" width="9.6" height="9.6" fill="#EF8636" fill-opacity="0.8" stroke="#EF8636" stroke-opacity="0.8" stroke-width="1.3"/>
<rect x="297.06" y="492.87" width="9.6" height="9.6" fill="#EF8636" fill-opacity="0.8" stroke="#EF8636" stroke-opacity="0.8" stroke-width="1.3"/>
<rect x="304.02" y="492.87" width="9.6" height="9.6" fill="#EF8636" fill-opacity="0.8" stroke="#EF8636" stroke-opacity="0.8" stroke-width="1.3"/>
<rect x="310.98" y="483.49" width="9.6" height="9.6" fill="#EF8636" fill-opacity="0.8" stroke="#EF8636" stroke-opacity="0.8" stroke-width="1.3"/>
<rect x="317.94" y="502.25" width="9.6" height="9.6" fill="#EF8636" fill-opacity="0.8" stroke="#EF8636" stroke-opacity="0.8" stroke-width="1.3"/>
<rect x="324.90" y="502.25" width="9.6" height="9.6" fill="#EF8636" fill-opacity="0.8" stroke="#EF8636" stroke-opacity="0.8" stroke-width="1.3"/>
<rect x="331.86" y="502.25" width="9.6" height="9.6" fill="#EF8636" fill-opacity="0.8" stroke="#EF8636" stroke-opacity="0.8" stroke-width="1.3"/>
<rect x="338.82" y="492.87" width="9.6" height="9.6" fill="#EF8636" fill-opacity="0.8" stroke="#EF8636" stroke-opacity="0.8" stroke-width="1.3"/>
<rect x="345.78" y="492.87" width="9.6" height="9.6" fill="#EF8636" fill-opacity="0.8" stroke="#EF8636" stroke-opacity="0.8" stroke-width="1.3"/>
<rect x="352.74" y="492.87" width="9.6" height="9.6" fill="#EF8636" fill-opacity="0.8" stroke="#EF8636" stroke-opacity="0.8" stroke-width="1.3"/>
<rect x="359.69" y="502.25" width="9.6" height="9.6" fill="#EF8636" fill-opacity="0.8" stroke="#EF8636" stroke-opacity="0.8" stroke-width="1.3"/>
<rect x="366.65" y="492.87" width="9.6" height="9.6" fill="#EF8636" fill-opacity="0.8" stroke="#EF8636" stroke-opacity="0.8" stroke-width="1.3"/>
<rect x="373.61" y="502.25" width="9.6" height="9.6" fill="#EF8636" fill-opacity="0.8" stroke="#EF8636" stroke-opacity="0.8" stroke-width="1.3"/>
<rect x="380.57" y="492.87" width="9.6" height="9.6" fill="#EF8636" fill-opacity="0.8" stroke="#EF8636" stroke-opacity="0.8" stroke-width="1.3"/>
<rect x="387.53" y="502.25" width="9.6" height="9.6" fill="#EF8636" fill-opacity="0.8" stroke="#EF8636" stroke-opacity="0.8" stroke-width="1.3"/>
<rect x="394.49" y="492.87" width="9.6" height="9.6" fill="#EF8636" fill-opacity="0.8" stroke="#EF8636" stroke-opacity="0.8" stroke-width="1.3"/>
<rect x="401.45" y="492.87" width="9.6" height="9.6" fill="#EF8636" fill-opacity="0.8" stroke="#EF8636" stroke-opacity="0.8" stroke-width="1.3"/>
<rect x="408.41" y="492.87" width="9.6" height="9.6" fill="#EF8636" fill-opacity="0.8" stroke="#EF8636" stroke-opacity="0.8" stroke-width="1.3"/>
<rect x="415.37" y="492.87" width="9.6" height="9.6" fill="#EF8636" fill-opacity="0.8" stroke="#EF8636" stroke-opacity="0.8" stroke-width="1.3"/>
<rect x="422.33" y="492.87" width="9.6" height="9.6" fill="#EF8636" fill-opacity="0.8" stroke="#EF8636" stroke-opacity="0.8" stroke-width="1.3"/>
<rect x="429.28" y="492.87" width="9.6" height="9.6" fill="#EF8636" fill-opacity="0.8" stroke="#EF8636" stroke-opacity="0.8" stroke-width="1.3"/>
<rect x="436.24" y="502.25" width="9.6" height="9.6" fill="#EF8636" fill-opacity="0.8" stroke="#EF8636" stroke-opacity="0.8" stroke-width="1.3"/>
<rect x="443.20" y="492.87" width="9.6" height="9.6" fill="#EF8636" fill-opacity="0.8" stroke="#EF8636" stroke-opacity="0.8" stroke-width="1.3"/>
<rect x="450.16" y="483.49" width="9.6" height="9.6" fill="#EF8636" fill-opacity="0.8" stroke="#EF8636" stroke-opacity="0.8" stroke-width="1.3"/>
<rect x="457.12" y="492.87" width="9.6" height="9.6" fill="#EF8636" fill-opacity="0.8" stroke="#EF8636" stroke-opacity="0.8" stroke-width="1.3"/>
<rect x="464.08" y="492.87" width="9.6" height="9.6" fill="#EF8636" fill-opacity="0.8" stroke="#EF8636" stroke-opacity="0.8" stroke-width="1.3"/>
<rect x="471.04" y="474.11" width="9.6" height="9.6" fill="#EF8636" fill-opacity="0.8" stroke="#EF8636" stroke-opacity="0.8" stroke-width="1.3"/>
<rect x="478.00" y="474.11" width="9.6" height="9.6" fill="#EF8636" fill-opacity="0.8" stroke="#EF8636" stroke-opacity="0.8" stroke-width="1.3"/>
<rect x="484.96" y="436.58" width="9.6" height="9.6" fill="#EF8636" fill-opacity="0.8" stroke="#EF8636" stroke-opacity="0.8" stroke-width="1.3"/>
<rect x="491.92" y="427.20" width="9.6" height="9.6" fill="#EF8636" fill-opacity="0.8" stroke="#EF8636" stroke-opacity="0.8" stroke-width="1.3"/>
<rect x="498.87" y="389.68" width="9.6" height="9.6" fill="#EF8636" fill-opacity="0.8" stroke="#EF8636" stroke-opacity="0.8" stroke-width="1.3"/>
<rect x="505.83" y="389.68" width="9.6" height="9.6" fill="#EF8636" fill-opacity="0.8" stroke="#EF8636" stroke-opacity="0.8" stroke-width="1.3"/>
<rect x="512.79" y="342.77" width="9.6" height="9.6" fill="#EF8636" fill-opacity="0.8" stroke="#EF8636" stroke-opacity="0.8" stroke-width="1.3"/>
<rect x="519.75" y="399.06" width="9.6" height="9.6" fill="#EF8636" fill-opacity="0.8" stroke="#EF8636" stroke-opacity="0.8" stroke-width="1.3"/>
<rect x="526.71" y="417.82" width="9.6" height="9.6" fill="#EF8636" fill-opacity="0.8" stroke="#EF8636" stroke-opacity="0.8" stroke-width="1.3"/>
<rect x="533.67" y="445.96" width="9.6" height="9.6" fill="#EF8636" fill-opacity="0.8" stroke="#EF8636" stroke-opacity="0.8" stroke-width="1.3"/>
<rect x="540.63" y="474.11" width="9.6" height="9.6" fill="#EF8636" fill-opacity="0.8" stroke="#EF8636" stroke-opacity="0.8" stroke-width="1.3"/>
<rect x="547.59" y="464.73" width="9.6" height="9.6" fill="#EF8636" fill-opacity="0.8" stroke="#EF8636" stroke-opacity="0.8" stroke-width="1.3"/>
<rect x="554.55" y="492.87" width="9.6" height="9.6" fill="#EF8636" fill-opacity="0.8" stroke="#EF8636" stroke-opacity="0.8" stroke-width="1.3"/>
<rect x="561.51" y="492.87" width="9.6" height="9.6" fill="#EF8636" fill-opacity="0.8" stroke="#EF8636" stroke-opacity="0.8" stroke-width="1.3"/>
<rect x="568.47" y="483.49" width="9.6" height="9.6" fill="#EF8636" fill-opacity="0.8" stroke="#EF8636" stroke-opacity="0.8" stroke-width="1.3"/>
<rect x="575.42" y="492.87" width="9.6" height="9.6" fill="#EF8636" fill-opacity="0.8" stroke="#EF8636" stroke-opacity="0.8" stroke-width="1.3"/>
<rect x="582.38" y="502.25" width="9.6" height="9.6" fill="#EF8636" fill-opacity="0.8" stroke="#EF8636" stroke-opacity="0.8" stroke-width="1.3"/>
<rect x="589.34" y="502.25" width="9.6" height="9.6" fill="#EF8636" fill-opacity="0.8" stroke="#EF8636" stroke-opacity="0.8" stroke-width="1.3"/>
<rect x="596.30" y="492.87" width="9.6" height="9.6" fill="#EF8636" fill-opacity="0.8" stroke="#EF8636" stroke-opacity="0.8" stroke-width="1.3"/>
<rect x="603.26" y="492.87" width="9.6" height="9.6" fill="#EF8636" fill-opacity="0.8" stroke="#EF8636" stroke-opacity="0.8" stroke-width="1.3"/>
<rect x="610.22" y="492.87" width="9.6" height="9.6" fill="#EF8636" fill-opacity="0.8" stroke="#EF8636" stroke-opacity="0.8" stroke-width="1.3"/>
<rect x="617.18" y="492.87" width="9.6" height="9.6" fill="#EF8636" fill-opacity="0.8" stroke="#EF8636" stroke-opacity="0.8" stroke-width="1.3"/>
<rect x="624.14" y="492.87" width="9.6" height="9.6" fill="#EF8636" fill-opacity="0.8" stroke="#EF8636" stroke-opacity="0.8" stroke-width="1.3"/>
<rect x="631.10" y="502.25" width="9.6" height="9.6" fill="#EF8636" fill-opacity="0.8" stroke="#EF8636" stroke-opacity="0.8" stroke-width="1.3"/>
<rect x="638.06" y="483.49" width="9.6" height="9.6" fill="#EF8636" fill-opacity="0.8" stroke="#EF8636" stroke-opacity="0.8" stroke-width="1.3"/>
<rect x="645.01" y="492.87" width="9.6" height="9.6" fill="#EF8636" fill-opacity="0.8" stroke="#EF8636" stroke-opacity="0.8" stroke-width="1.3"/>
<rect x="651.97" y="492.87" width="9.6" height="9.6" fill="#EF8636" fill-opacity="0.8" stroke="#EF8636" stroke-opacity="0.8" stroke-width="1.3"/>
<rect x="658.93" y="483.49" width="9.6" height="9.6" fill="#EF8636" fill-opacity="0.8" stroke="#EF8636" stroke-opacity="0.8" stroke-width="1.3"/>
<rect x="665.89" y="474.11" width="9.6" height="9.6" fill="#EF8636" fill-opacity="0.8" stroke="#EF8636" stroke-opacity="0.8" stroke-width="1.3"/>
<rect x="672.85" y="483.49" width="9.6" height="9.6" fill="#EF8636" fill-opacity="0.8" stroke="#EF8636" stroke-opacity="0.8" stroke-width="1.3"/>
<rect x="679.81" y="492.87" width="9.6" height="9.6" fill="#EF8636" fill-opacity="0.8" stroke="#EF8636" stroke-opacity="0.8" stroke-width="1.3"/>
<rect x="686.77" y="492.87" width="9.6" height="9.6" fill="#EF8636" fill-opacity="0.8" stroke="#EF8636" stroke-opacity="0.8" stroke-width="1.3"/>
<rect x="693.73" y="502.25" width="9.6" height="9.6" fill="#EF8636" fill-opacity="0.8" stroke="#EF8636" stroke-opacity="0.8" stroke-width="1.3"/>
<rect x="700.69" y="492.87" width="9.6" height="9.6" fill="#EF8636" fill-opacity="0.8" stroke="#EF8636" stroke-opacity="0.8" stroke-width="1.3"/>
<rect x="707.64" y="492.87" width="9.6" height="9.6" fill="#EF8636" fill-opacity="0.8" stroke="#EF8636" stroke-opacity="0.8" stroke-width="1.3"/>
<rect x="714.60" y="492.87" width="9.6" height="9.6" fill="#EF8636" fill-opacity="0.8" stroke="#EF8636" stroke-opacity="0.8" stroke-width="1.3"/>
<rect x="721.56" y="483.49" width="9.6" height="9.6" fill="#EF8636" fill-opacity="0.8" stroke="#EF8636" stroke-opacity="0.8" stroke-width="1.3"/>
<rect x="728.52" y="492.87" width="9.6" height="9.6" fill="#EF8636" fill-opacity="0.8" stroke="#EF8636" stroke-opacity="0.8" stroke-width="1.3"/>
<rect x="735.48" y="492.87" width="9.6" height="9.6" fill="#EF8636" fill-opacity="0.8" stroke="#EF8636" stroke-opacity="0.8" stroke-width="1.3"/>
<rect x="742.44" y="502.25" width="9.6" height="9.6" fill="#EF8636" fill-opacity="0.8" stroke="#EF8636" stroke-opacity="0.8" stroke-width="1.3"/>
<rect x="749.40" y="502.25" width="9.6" height="9.6" fill="#EF8636" fill-opacity="0.8" stroke="#EF8636" stroke-opacity="0.8" stroke-width="1.3"/>
<rect x="756.36" y="492.87" width="9.6" height="9.6" fill="#EF8636" fill-opacity="0.8" stroke="#EF8636" stroke-opacity="0.8" stroke-width="1.3"/>
<rect x="763.32" y="492.87" width="9.6" height="9.6" fill="#EF8636" fill-opacity="0.8" stroke="#EF8636" stroke-opacity="0.8" stroke-width="1.3"/>
<rect x="770.28" y="502.25" width="9.6" height="9.6" fill="#EF8636" fill-opacity="0.8" stroke="#EF8636" stroke-opacity="0.8" stroke-width="1.3"/>
<rect x="777.24" y="483.49" width="9.6" height="9.6" fill="#EF8636" fill-opacity="0.8" stroke="#EF8636" stroke-opacity="0.8" stroke-width="1.3"/>
<rect x="784.19" y="474.11" width="9.6" height="9.6" fill="#EF8636" fill-opacity="0.8" stroke="#EF8636" stroke-opacity="0.8" stroke-width="1.3"/>
<rect x="791.15" y="492.87" width="9.6" height="9.6" fill="#EF8636" fill-opacity="0.8" stroke="#EF8636" stroke-opacity="0.8" stroke-width="1.3"/>
<rect x="798.11" y="464.73" width="9.6" height="9.6" fill="#EF8636" fill-opacity="0.8" stroke="#EF8636" stroke-opacity="0.8" stroke-width="1.3"/>
<rect x="805.07" y="474.11" width="9.6" height="9.6" fill="#EF8636" fill-opacity="0.8" stroke="#EF8636" stroke-opacity="0.8" stroke-width="1.3"/>
<rect x="812.03" y="436.58" width="9.6" height="9.6" fill="#EF8636" fill-opacity="0.8" stroke="#EF8636" stroke-opacity="0.8" stroke-width="1.3"/>
<rect x="818.99" y="399.06" width="9.6" height="9.6" fill="#EF8636" fill-opacity="0.8" stroke="#EF8636" stroke-opacity="0.8" stroke-width="1.3"/>
<rect x="825.95" y="389.68" width="9.6" height="9.6" fill="#EF8636" fill-opacity="0.8" stroke="#EF8636" stroke-opacity="0.8" stroke-width="1.3"/>
<rect x="832.91" y="380.30" width="9.6" height="9.6" fill="#EF8636" fill-opacity="0.8" stroke="#EF8636" stroke-opacity="0.8" stroke-width="1.3"/>
<rect x="839.87" y="408.44" width="9.6" height="9.6" fill="#EF8636" fill-opacity="0.8" stroke="#EF8636" stroke-opacity="0.8" stroke-width="1.3"/>
<rect x="846.83" y="417.82" width="9.6" height="9.6" fill="#EF8636" fill-opacity="0.8" stroke="#EF8636" stroke-opacity="0.8" stroke-width="1.3"/>
<rect x="853.78" y="455.34" width="9.6" height="9.6" fill="#EF8636" fill-opacity="0.8" stroke="#EF8636" stroke-opacity="0.8" stroke-width="1.3"/>
<rect x="860.74" y="492.87" width="9.6" height="9.6" fill="#EF8636" fill-opacity="0.8" stroke="#EF8636" stroke-opacity="0.8" stroke-width="1.3"/>
<rect x="867.70" y="502.25" width="9.6" height="9.6" fill="#EF8636" fill-opacity="0.8" stroke="#EF8636" stroke-opacity="0.8" stroke-width="1.3"/>
<rect x="874.66" y="483.49" width="9.6" height="9.6" fill="#EF8636" fill-opacity="0.8" stroke="#EF8636" stroke-opacity="0.8" stroke-width="1.3"/>
<rect x="881.62" y="492.87" width="9.6" height="9.6" fill="#EF8636" fill-opacity="0.8" stroke="#EF8636" stroke-opacity="0.8" stroke-width="1.3"/>
<rect x="888.58" y="502.25" width="9.6" height="9.6" fill="#EF8636" fill-opacity="0.8" stroke="#EF8636" stroke-opacity="0.8" stroke-width="1.3"/>
<rect x="895.54" y="483.49" width="9.6" height="9.6" fill="#EF8636" fill-opacity="0.8" stroke="#EF8636" stroke-opacity="0.8" stroke-width="1.3"/>
<rect x="902.50" y="492.87" width="9.6" height="9.6" fill="#EF8636" fill-opacity="0.8" stroke="#EF8636" stroke-opacity="0.8" stroke-width="1.3"/>
<rect x="909.46" y="483.49" width="9.6" height="9.6" fill="#EF8636" fill-opacity="0.8" stroke="#EF8636" stroke-opacity="0.8" stroke-width="1.3"/>
<rect x="916.41" y="492.87" width="9.6" height="9.6" fill="#EF8636" fill-opacity="0.8" stroke="#EF8636" stroke-opacity="0.8" stroke-width="1.3"/>
<rect x="923.37" y="492.87" width="9.6" height="9.6" fill="#EF8636" fill-opacity="0.8" stroke="#EF8636" stroke-opacity="0.8" stroke-width="1.3"/>
<rect x="930.33" y="483.49" width="9.6" height="9.6" fill="#EF8636" fill-opacity="0.8" stroke="#EF8636" stroke-opacity="0.8" stroke-width="1.3"/>
<rect x="937.29" y="502.25" width="9.6" height="9.6" fill="#EF8636" fill-opacity="0.8" stroke="#EF8636" stroke-opacity="0.8" stroke-width="1.3"/>
<rect x="944.25" y="492.87" width="9.6" height="9.6" fill="#EF8636" fill-opacity="0.8" stroke="#EF8636" stroke-opacity="0.8" stroke-width="1.3"/>
<rect x="951.21" y="502.25" width="9.6" height="9.6" fill="#EF8636" fill-opacity="0.8" stroke="#EF8636" stroke-opacity="0.8" stroke-width="1.3"/>
<rect x="958.17" y="492.87" width="9.6" height="9.6" fill="#EF8636" fill-opacity="0.8" stroke="#EF8636" stroke-opacity="0.8" stroke-width="1.3"/>
<rect x="965.13" y="492.87" width="9.6" height="9.6" fill="#EF8636" fill-opacity="0.8" stroke="#EF8636" stroke-opacity="0.8" stroke-width="1.3"/>
<rect x="972.09" y="483.49" width="9.6" height="9.6" fill="#EF8636" fill-opacity="0.8" stroke="#EF8636" stroke-opacity="0.8" stroke-width="1.3"/>
<rect x="979.05" y="492.87" width="9.6" height="9.6" fill="#EF8636" fill-opacity="0.8" stroke="#EF8636" stroke-opacity="0.8" stroke-width="1.3"/>
<rect x="986.00" y="492.87" width="9.6" height="9.6" fill="#EF8636" fill-opacity="0.8" stroke="#EF8636" stroke-opacity="0.8" stroke-width="1.3"/>
<rect x="992.96" y="492.87" width="9.6" height="9.6" fill="#EF8636" fill-opacity="0.8" stroke="#EF8636" stroke-opacity="0.8" stroke-width="1.3"/>
<rect x="999.92" y="502.25" width="9.6" height="9.6" fill="#EF8636" fill-opacity="0.8" stroke="#EF8636" stroke-opacity="0.8" stroke-width="1.3"/>
<rect x="1006.88" y="492.87" width="9.6" height="9.6" fill="#EF8636" fill-opacity="0.8" stroke="#EF8636" stroke-opacity="0.8" stroke-width="1.3"/>
<rect x="1013.84" y="492.87" width="9.6" height="9.6" fill="#EF8636" fill-opacity="0.8" stroke="#EF8636" stroke-opacity="0.8" stroke-width="1.3"/>
<rect x="1020.80" y="502.25" width="9.6" height="9.6" fill="#EF8636" fill-opacity="0.8" stroke="#EF8636" stroke-opacity="0.8" stroke-width="1.3"/>
<rect x="1027.76" y="492.87" width="9.6" height="9.6" fill="#EF8636" fill-opacity="0.8" stroke="#EF8636" stroke-opacity="0.8" stroke-width="1.3"/>
<rect x="1034.72" y="502.25" width="9.6" height="9.6" fill="#EF8636" fill-opacity="0.8" stroke="#EF8636" stroke-opacity="0.8" stroke-width="1.3"/>
<rect x="1041.68" y="492.87" width="9.6" height="9.6" fill="#EF8636" fill-opacity="0.8" stroke="#EF8636" stroke-opacity="0.8" stroke-width="1.3"/>
<rect x="1048.64" y="502.25" width="9.6" height="9.6" fill="#EF8636" fill-opacity="0.8" stroke="#EF8636" stroke-opacity="0.8" stroke-width="1.3"/>
<rect x="1055.60" y="492.87" width="9.6" height="9.6" fill="#EF8636" fill-opacity="0.8" stroke="#EF8636" stroke-opacity="0.8" stroke-width="1.3"/>
<rect x="1062.55" y="502.25" width="9.6" height="9.6" fill="#EF8636" fill-opacity="0.8" stroke="#EF8636" stroke-opacity="0.8" stroke-width="1.3"/>
<rect x="1069.51" y="502.25" width="9.6" height="9.6" fill="#EF8636" fill-opacity="0.8" stroke="#EF8636" stroke-opacity="0.8" stroke-width="1.3"/>
<rect x="1076.47" y="492.87" width="9.6" height="9.6" fill="#EF8636" fill-opacity="0.8" stroke="#EF8636" stroke-opacity="0.8" stroke-width="1.3"/>
<rect x="1083.43" y="492.87" width="9.6" height="9.6" fill="#EF8636" fill-opacity="0.8" stroke="#EF8636" stroke-opacity="0.8" stroke-width="1.3"/>
<rect x="1090.39" y="502.25" width="9.6" height="9.6" fill="#EF8636" fill-opacity="0.8" stroke="#EF8636" stroke-opacity="0.8" stroke-width="1.3"/>
<rect x="1097.35" y="492.87" width="9.6" height="9.6" fill="#EF8636" fill-opacity="0.8" stroke="#EF8636" stroke-opacity="0.8" stroke-width="1.3"/>
<rect x="1104.31" y="502.25" width="9.6" height="9.6" fill="#EF8636" fill-opacity="0.8" stroke="#EF8636" stroke-opacity="0.8" stroke-width="1.3"/>
<rect x="1111.27" y="492.87" width="9.6" height="9.6" fill="#EF8636" fill-opacity="0.8" stroke="#EF8636" stroke-opacity="0.8" stroke-width="1.3"/>
<rect x="1118.23" y="502.25" width="9.6" height="9.6" fill="#EF8636" fill-opacity="0.8" stroke="#EF8636" stroke-opacity="0.8" stroke-width="1.3"/>
<rect x="1125.18" y="492.87" width="9.6" height="9.6" fill="#EF8636" fill-opacity="0.8" stroke="#EF8636" stroke-opacity="0.8" stroke-width="1.3"/>
<rect x="1132.14" y="492.87" width="9.6" height="9.6" fill="#EF8636" fill-opacity="0.8" stroke="#EF8636" stroke-opacity="0.8" stroke-width="1.3"/>
<rect x="1139.10" y="502.25" width="9.6" height="9.6" fill="#EF8636" fill-opacity="0.8" stroke="#EF8636" stroke-opacity="0.8" stroke-width="1.3"/>
<rect x="1146.06" y="502.25" width="9.6" height="9.6" fill="#EF8636" fill-opacity="0.8" stroke="#EF8636" stroke-opacity="0.8" stroke-width="1.3"/>
<rect x="1153.02" y="502.25" width="9.6" height="9.6" fill="#EF8636" fill-opacity="0.8" stroke="#EF8636" stroke-opacity="0.8" stroke-width="1.3"/>
<rect x="1159.98" y="492.87" width="9.6" height="9.6" fill="#EF8636" fill-opacity="0.8" stroke="#EF8636" stroke-opacity="0.8" stroke-width="1.3"/>
<rect x="1166.94" y="492.87" width="9.6" height="9.6" fill="#EF8636" fill-opacity="0.8" stroke="#EF8636" stroke-opacity="0.8" stroke-width="1.3"/>
<rect x="1173.90" y="483.49" width="9.6" height="9.6" fill="#EF8636" fill-opacity="0.8" stroke="#EF8636" stroke-opacity="0.8" stroke-width="1.3"/>
<rect x="1180.86" y="502.25" width="9.6" height="9.6" fill="#EF8636" fill-opacity="0.8" stroke="#EF8636" stroke-opacity="0.8" stroke-width="1.3"/>
<rect x="1187.82" y="502.25" width="9.6" height="9.6" fill="#EF8636" fill-opacity="0.8" stroke="#EF8636" stroke-opacity="0.8" stroke-width="1.3"/>
</g>
<rect x="156.00" y="24.20" width="1036.50" height="505.70" fill="none" stroke="#000" stroke-width="3.9" stroke-linejoin="miter"/>
<rect x="788.9" y="45.95" width="381.80" height="140.90" rx="7.5" ry="7.5" fill="#ffffff" fill-opacity="0.8" stroke="#cccccc" stroke-opacity="0.8" stroke-width="1.9"/>
<line x1="804.3" y1="81.2" x2="893.3" y2="81.2" stroke="#3B76AF" stroke-opacity="0.8" stroke-width="3.4"/>
<circle cx="848.8" cy="81.2" r="4.85" fill="#3B76AF" fill-opacity="0.8" stroke="#3B76AF" stroke-opacity="0.8" stroke-width="1.3"/>
<line x1="804.3" y1="145.5" x2="893.3" y2="145.5" stroke="#EF8636" stroke-opacity="0.8" stroke-width="3.4"/>
<rect x="844.00" y="140.70" width="9.6" height="9.6" fill="#EF8636" fill-opacity="0.8" stroke="#EF8636" stroke-opacity="0.8" stroke-width="1.3"/>
<text transform="translate(925.81,95.40)" font-size="43.5" style="font-family:'Liberation Sans','DejaVu Sans',sans-serif"><tspan x="1" y="0" font-style="italic">ϕ</tspan><tspan x="29" y="7" font-size="30.5" font-style="italic">a</tspan><tspan x="58" y="0">+</tspan><tspan x="101" y="0" font-style="italic">ϕ</tspan><tspan x="129" y="7" font-size="30.5" font-style="italic">b</tspan><tspan x="159" y="0">=</tspan><tspan x="202" y="0">0</tspan></text>
<text transform="translate(925.81,159.70)" font-size="43.5" style="font-family:'Liberation Sans','DejaVu Sans',sans-serif"><tspan x="1" y="0" font-style="italic">ϕ</tspan><tspan x="29" y="7" font-size="30.5" font-style="italic">a</tspan><tspan x="58" y="0">+</tspan><tspan x="101" y="0" font-style="italic">ϕ</tspan><tspan x="129" y="7" font-size="30.5" font-style="italic">b</tspan><tspan x="159" y="0">=</tspan><tspan x="202" y="0" font-style="italic">π</tspan></text>
<text transform="translate(103.34,569.70)" font-size="46.3">−150</text>
<text transform="translate(277.32,569.70)" font-size="46.3">−100</text>
<text transform="translate(464.17,569.70)" font-size="46.3">−50</text>
<text transform="translate(664.78,569.70)" font-size="46.3">0</text>
<text transform="translate(825.85,569.70)" font-size="46.3">50</text>
<text transform="translate(986.12,569.70)" font-size="46.3">100</text>
<text transform="translate(122.96,522.99)" font-size="46.3">0</text>
<text transform="translate(97.21,335.37)" font-size="46.3">20</text>
<text transform="translate(97.21,147.75)" font-size="46.3">40</text>
<text transform="translate(82.00,415.72) rotate(-90)" font-size="46.6">Coincidences</text>
<text transform="translate(613.36,620.20)" x="3" y="0" font-size="46.6" font-style="italic" style="font-family:'Liberation Sans','DejaVu Sans',sans-serif">τ</text>
<text transform="translate(653.91,620.20)" font-size="46.6">(ns)</text>
<text transform="translate(29.88,62.10)" font-size="53.5">(a)</text>
<g clip-path="url(#cb)">
<line x1="1493.04" y1="482.50" x2="1493.04" y2="60.20" stroke="#808080" stroke-opacity="0.85" stroke-width="1.4" stroke-dasharray="4.7 2.25" fill="none"/>
<line x1="1616.30" y1="482.50" x2="1616.30" y2="60.20" stroke="#808080" stroke-opacity="0.85" stroke-width="1.4" stroke-dasharray="4.7 2.25" fill="none"/>
<line x1="1739.56" y1="482.50" x2="1739.56" y2="60.20" stroke="#808080" stroke-opacity="0.85" stroke-width="1.4" stroke-dasharray="4.7 2.25" fill="none"/>
<line x1="1862.82" y1="482.50" x2="1862.82" y2="60.20" stroke="#808080" stroke-opacity="0.85" stroke-width="1.4" stroke-dasharray="4.7 2.25" fill="none"/>
<line x1="1986.08" y1="482.50" x2="1986.08" y2="60.20" stroke="#808080" stroke-opacity="0.85" stroke-width="1.4" stroke-dasharray="4.7 2.25" fill="none"/>
<line x1="1468.70" y1="474.07" x2="2010.90" y2="474.07" stroke="#808080" stroke-opacity="0.85" stroke-width="1.4" stroke-dasharray="4.7 2.25" fill="none"/>
<line x1="1468.70" y1="318.18" x2="2010.90" y2="318.18" stroke="#808080" stroke-opacity="0.85" stroke-width="1.4" stroke-dasharray="4.7 2.25" fill="none"/>
<line x1="1468.70" y1="162.29" x2="2010.90" y2="162.29" stroke="#808080" stroke-opacity="0.85" stroke-width="1.4" stroke-dasharray="4.7 2.25" fill="none"/>
</g>
<line x1="1493.04" y1="482.50" x2="1493.04" y2="471.00" stroke="#000" stroke-width="2.8"/>
<line x1="1616.30" y1="482.50" x2="1616.30" y2="471.00" stroke="#000" stroke-width="2.8"/>
<line x1="1739.56" y1="482.50" x2="1739.56" y2="471.00" stroke="#000" stroke-width="2.8"/>
<line x1="1862.82" y1="482.50" x2="1862.82" y2="471.00" stroke="#000" stroke-width="2.8"/>
<line x1="1986.08" y1="482.50" x2="1986.08" y2="471.00" stroke="#000" stroke-width="2.8"/>
<line x1="1468.70" y1="474.07" x2="1480.20" y2="474.07" stroke="#000" stroke-width="2.8"/>
<line x1="1468.70" y1="318.18" x2="1480.20" y2="318.18" stroke="#000" stroke-width="2.8"/>
<line x1="1468.70" y1="162.29" x2="1480.20" y2="162.29" stroke="#000" stroke-width="2.8"/>
<g clip-path="url(#cb)">
<polyline points="1493.04,279.83 1495.50,274.20 1497.97,268.57 1500.44,262.96 1502.90,257.36 1505.37,251.79 1507.83,246.24 1510.30,240.72 1512.76,235.25 1515.23,229.82 1517.69,224.43 1520.16,219.10 1522.62,213.84 1525.09,208.63 1527.55,203.50 1530.02,198.44 1532.48,193.47 1534.95,188.57 1537.41,183.77 1539.88,179.06 1542.34,174.46 1544.81,169.95 1547.27,165.56 1549.74,161.28 1552.20,157.11 1554.67,153.07 1557.14,149.15 1559.60,145.36 1562.07,141.70 1564.53,138.18 1567.00,134.80 1569.46,131.56 1571.93,128.47 1574.39,125.52 1576.86,122.73 1579.32,120.10 1581.79,117.62 1584.25,115.30 1586.72,113.15 1589.18,111.16 1591.65,109.33 1594.11,107.68 1596.58,106.19 1599.04,104.88 1601.51,103.73 1603.97,102.76 1606.44,101.97 1608.90,101.35 1611.37,100.91 1613.83,100.65 1616.30,100.56 1618.77,100.65 1621.23,100.91 1623.70,101.35 1626.16,101.97 1628.63,102.76 1631.09,103.73 1633.56,104.88 1636.02,106.19 1638.49,107.68 1640.95,109.33 1643.42,111.16 1645.88,113.15 1648.35,115.30 1650.81,117.62 1653.28,120.10 1655.74,122.73 1658.21,125.52 1660.67,128.47 1663.14,131.56 1665.60,134.80 1668.07,138.18 1670.53,141.70 1673.00,145.36 1675.46,149.15 1677.93,153.07 1680.40,157.11 1682.86,161.28 1685.33,165.56 1687.79,169.95 1690.26,174.46 1692.72,179.06 1695.19,183.77 1697.65,188.57 1700.12,193.47 1702.58,198.44 1705.05,203.50 1707.51,208.63 1709.98,213.84 1712.44,219.10 1714.91,224.43 1717.37,229.82 1719.84,235.25 1722.30,240.72 1724.77,246.24 1727.23,251.79 1729.70,257.36 1732.16,262.96 1734.63,268.57 1737.10,274.20 1739.56,279.83 1742.03,285.46 1744.49,291.09 1746.96,296.70 1749.42,302.30 1751.89,307.88 1754.35,313.42 1756.82,318.94 1759.28,324.41 1761.75,329.85 1764.21,335.23 1766.68,340.56 1769.14,345.83 1771.61,351.03 1774.07,356.16 1776.54,361.22 1779.00,366.20 1781.47,371.09 1783.93,375.89 1786.40,380.60 1788.86,385.21 1791.33,389.71 1793.79,394.10 1796.26,398.39 1798.73,402.55 1801.19,406.60 1803.66,410.52 1806.12,414.31 1808.59,417.96 1811.05,421.48 1813.52,424.87 1815.98,428.10 1818.45,431.20 1820.91,434.14 1823.38,436.93 1825.84,439.56 1828.31,442.04 1830.77,444.36 1833.24,446.52 1835.70,448.51 1838.17,450.33 1840.63,451.99 1843.10,453.47 1845.56,454.79 1848.03,455.93 1850.49,456.90 1852.96,457.69 1855.43,458.31 1857.89,458.75 1860.36,459.02 1862.82,459.10 1865.29,459.02 1867.75,458.75 1870.22,458.31 1872.68,457.69 1875.15,456.90 1877.61,455.93 1880.08,454.79 1882.54,453.47 1885.01,451.99 1887.47,450.33 1889.94,448.51 1892.40,446.52 1894.87,444.36 1897.33,442.04 1899.80,439.56 1902.26,436.93 1904.73,434.14 1907.19,431.20 1909.66,428.10 1912.12,424.87 1914.59,421.48 1917.06,417.96 1919.52,414.31 1921.99,410.52 1924.45,406.60 1926.92,402.55 1929.38,398.39 1931.85,394.10 1934.31,389.71 1936.78,385.21 1939.24,380.60 1941.71,375.89 1944.17,371.09 1946.64,366.20 1949.10,361.22 1951.57,356.16 1954.03,351.03 1956.50,345.83 1958.96,340.56 1961.43,335.23 1963.89,329.85 1966.36,324.41 1968.82,318.94 1971.29,313.42 1973.76,307.88 1976.22,302.30 1978.69,296.70 1981.15,291.09 1983.62,285.46 1986.08,279.83" fill="none" stroke="#EF8636" stroke-width="3.9" stroke-linejoin="round"/>
<line x1="1493.04" y1="304.08" x2="1493.04" y2="269.93" stroke="#3B76AF" stroke-width="1.9"/>
<line x1="1488.04" y1="304.08" x2="1498.04" y2="304.08" stroke="#3B76AF" stroke-width="1.9"/>
<line x1="1488.04" y1="269.93" x2="1498.04" y2="269.93" stroke="#3B76AF" stroke-width="1.9"/>
<circle cx="1493.04" cy="287.00" r="6.0" fill="#3B76AF" stroke="#3B76AF" stroke-width="1.3"/>
<line x1="1534.13" y1="196.36" x2="1534.13" y2="153.16" stroke="#3B76AF" stroke-width="1.9"/>
<line x1="1529.13" y1="196.36" x2="1539.13" y2="196.36" stroke="#3B76AF" stroke-width="1.9"/>
<line x1="1529.13" y1="153.16" x2="1539.13" y2="153.16" stroke="#3B76AF" stroke-width="1.9"/>
<circle cx="1534.13" cy="174.76" r="6.0" fill="#3B76AF" stroke="#3B76AF" stroke-width="1.3"/>
<line x1="1575.21" y1="160.26" x2="1575.21" y2="114.44" stroke="#3B76AF" stroke-width="1.9"/>
<line x1="1570.21" y1="160.26" x2="1580.21" y2="160.26" stroke="#3B76AF" stroke-width="1.9"/>
<line x1="1570.21" y1="114.44" x2="1580.21" y2="114.44" stroke="#3B76AF" stroke-width="1.9"/>
<circle cx="1575.21" cy="137.35" r="6.0" fill="#3B76AF" stroke="#3B76AF" stroke-width="1.3"/>
<line x1="1616.30" y1="127.10" x2="1616.30" y2="79.00" stroke="#3B76AF" stroke-width="1.9"/>
<line x1="1611.30" y1="127.10" x2="1621.30" y2="127.10" stroke="#3B76AF" stroke-width="1.9"/>
<line x1="1611.30" y1="79.00" x2="1621.30" y2="79.00" stroke="#3B76AF" stroke-width="1.9"/>
<circle cx="1616.30" cy="103.05" r="6.0" fill="#3B76AF" stroke="#3B76AF" stroke-width="1.3"/>
<line x1="1657.39" y1="139.16" x2="1657.39" y2="91.88" stroke="#3B76AF" stroke-width="1.9"/>
<line x1="1652.39" y1="139.16" x2="1662.39" y2="139.16" stroke="#3B76AF" stroke-width="1.9"/>
<line x1="1652.39" y1="91.88" x2="1662.39" y2="91.88" stroke="#3B76AF" stroke-width="1.9"/>
<circle cx="1657.39" cy="115.52" r="6.0" fill="#3B76AF" stroke="#3B76AF" stroke-width="1.3"/>
<line x1="1698.47" y1="214.38" x2="1698.47" y2="172.55" stroke="#3B76AF" stroke-width="1.9"/>
<line x1="1693.47" y1="214.38" x2="1703.47" y2="214.38" stroke="#3B76AF" stroke-width="1.9"/>
<line x1="1693.47" y1="172.55" x2="1703.47" y2="172.55" stroke="#3B76AF" stroke-width="1.9"/>
<circle cx="1698.47" cy="193.47" r="6.0" fill="#3B76AF" stroke="#3B76AF" stroke-width="1.3"/>
<line x1="1739.56" y1="287.70" x2="1739.56" y2="252.01" stroke="#3B76AF" stroke-width="1.9"/>
<line x1="1734.56" y1="287.70" x2="1744.56" y2="287.70" stroke="#3B76AF" stroke-width="1.9"/>
<line x1="1734.56" y1="252.01" x2="1744.56" y2="252.01" stroke="#3B76AF" stroke-width="1.9"/>
<circle cx="1739.56" cy="269.85" r="6.0" fill="#3B76AF" stroke="#3B76AF" stroke-width="1.3"/>
<line x1="1780.65" y1="391.15" x2="1780.65" y2="366.80" stroke="#3B76AF" stroke-width="1.9"/>
<line x1="1775.65" y1="391.15" x2="1785.65" y2="391.15" stroke="#3B76AF" stroke-width="1.9"/>
<line x1="1775.65" y1="366.80" x2="1785.65" y2="366.80" stroke="#3B76AF" stroke-width="1.9"/>
<circle cx="1780.65" cy="378.98" r="6.0" fill="#3B76AF" stroke="#3B76AF" stroke-width="1.3"/>
<line x1="1821.73" y1="438.67" x2="1821.73" y2="422.17" stroke="#3B76AF" stroke-width="1.9"/>
<line x1="1816.73" y1="438.67" x2="1826.73" y2="438.67" stroke="#3B76AF" stroke-width="1.9"/>
<line x1="1816.73" y1="422.17" x2="1826.73" y2="422.17" stroke="#3B76AF" stroke-width="1.9"/>
<circle cx="1821.73" cy="430.42" r="6.0" fill="#3B76AF" stroke="#3B76AF" stroke-width="1.3"/>
<line x1="1862.82" y1="463.41" x2="1862.82" y2="453.55" stroke="#3B76AF" stroke-width="1.9"/>
<line x1="1857.82" y1="463.41" x2="1867.82" y2="463.41" stroke="#3B76AF" stroke-width="1.9"/>
<line x1="1857.82" y1="453.55" x2="1867.82" y2="453.55" stroke="#3B76AF" stroke-width="1.9"/>
<circle cx="1862.82" cy="458.48" r="6.0" fill="#3B76AF" stroke="#3B76AF" stroke-width="1.3"/>
<line x1="1903.91" y1="444.29" x2="1903.91" y2="429.02" stroke="#3B76AF" stroke-width="1.9"/>
<line x1="1898.91" y1="444.29" x2="1908.91" y2="444.29" stroke="#3B76AF" stroke-width="1.9"/>
<line x1="1898.91" y1="429.02" x2="1908.91" y2="429.02" stroke="#3B76AF" stroke-width="1.9"/>
<circle cx="1903.91" cy="436.66" r="6.0" fill="#3B76AF" stroke="#3B76AF" stroke-width="1.3"/>
<line x1="1944.99" y1="389.69" x2="1944.99" y2="365.14" stroke="#3B76AF" stroke-width="1.9"/>
<line x1="1939.99" y1="389.69" x2="1949.99" y2="389.69" stroke="#3B76AF" stroke-width="1.9"/>
<line x1="1939.99" y1="365.14" x2="1949.99" y2="365.14" stroke="#3B76AF" stroke-width="1.9"/>
<circle cx="1944.99" cy="377.42" r="6.0" fill="#3B76AF" stroke="#3B76AF" stroke-width="1.3"/>
<line x1="1986.08" y1="286.21" x2="1986.08" y2="250.38" stroke="#3B76AF" stroke-width="1.9"/>
<line x1="1981.08" y1="286.21" x2="1991.08" y2="286.21" stroke="#3B76AF" stroke-width="1.9"/>
<line x1="1981.08" y1="250.38" x2="1991.08" y2="250.38" stroke="#3B76AF" stroke-width="1.9"/>
<circle cx="1986.08" cy="268.30" r="6.0" fill="#3B76AF" stroke="#3B76AF" stroke-width="1.3"/>
</g>
<rect x="1468.70" y="60.20" width="542.20" height="422.30" fill="none" stroke="#000" stroke-width="3.9"/>
<text transform="translate(1433.79,490.45)" font-size="47.6">0</text>
<text transform="translate(1380.84,334.56)" font-size="47.6">100</text>
<text transform="translate(1380.84,178.67)" font-size="47.6">200</text>
<text transform="translate(1435.35,524.30)" font-size="49.5" style="font-family:'Liberation Sans','DejaVu Sans',sans-serif"><tspan x="6" y="0">−</tspan><tspan x="42" y="0" font-style="italic">π</tspan><tspan x="71" y="0">/</tspan><tspan x="86" y="0">2</tspan></text>
<text transform="translate(1600.65,524.30)" font-size="49.5" style="font-family:'Liberation Sans','DejaVu Sans',sans-serif"><tspan x="2" y="0">0</tspan></text>
<text transform="translate(1702.24,524.30)" font-size="49.5" style="font-family:'Liberation Sans','DejaVu Sans',sans-serif"><tspan x="2" y="0" font-style="italic">π</tspan><tspan x="30" y="0">/</tspan><tspan x="46" y="0">2</tspan></text>
<text transform="translate(1846.74,524.30)" font-size="49.5" style="font-family:'Liberation Sans','DejaVu Sans',sans-serif"><tspan x="2" y="0" font-style="italic">π</tspan></text>
<text transform="translate(1932.98,524.30)" font-size="49.5" style="font-family:'Liberation Sans','DejaVu Sans',sans-serif"><tspan x="2" y="0">3</tspan><tspan x="32" y="0" font-style="italic">π</tspan><tspan x="61" y="0">/</tspan><tspan x="77" y="0">2</tspan></text>
<text transform="translate(1656.36,579.00)" font-size="49.2" style="font-family:'Liberation Sans','DejaVu Sans',sans-serif"><tspan x="1" y="0" font-style="italic">ϕ</tspan><tspan x="33" y="8" font-size="34.4">a</tspan><tspan x="66" y="0">+</tspan><tspan x="114" y="0" font-style="italic">ϕ</tspan><tspan x="146" y="8" font-size="34.4">b</tspan></text>
<text transform="translate(1363.00,416.34) rotate(-90)" font-size="48.4">Coincidences</text>
<text transform="translate(1315.16,99.70)" font-size="55.5">(b)</text>
</svg>
</body></html>
